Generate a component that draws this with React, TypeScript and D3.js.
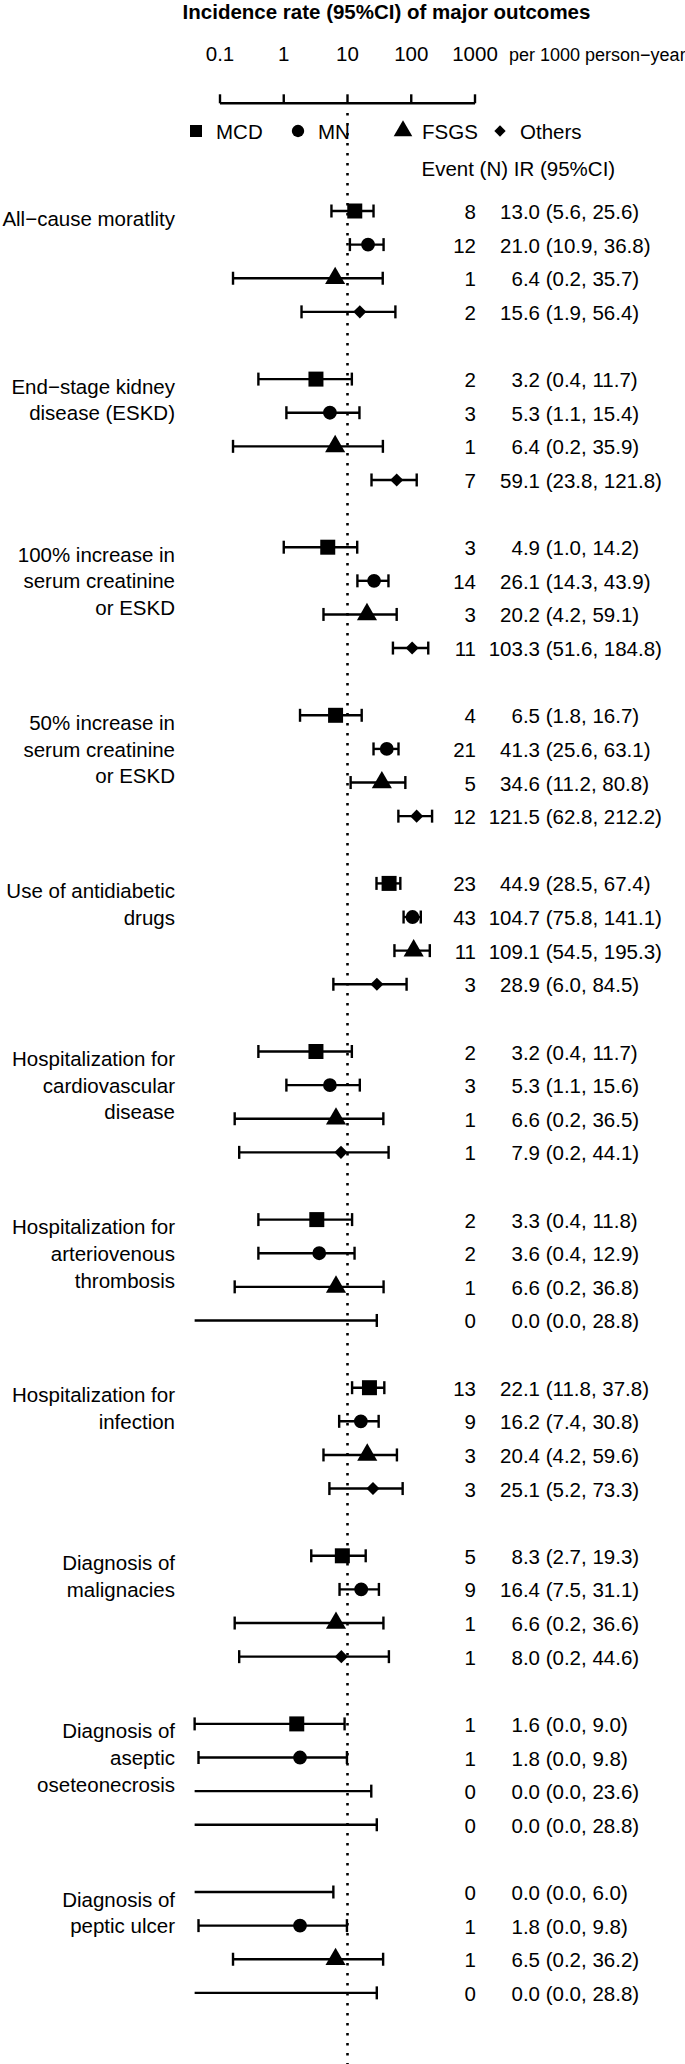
import React from 'react';
import * as d3 from 'd3';

const MINUS = '\u2212';

const groupLabels: string[][] = [
  [`All${MINUS}cause moratlity`],
  [`End${MINUS}stage kidney`, 'disease (ESKD)'],
  ['100% increase in', 'serum creatinine', 'or ESKD'],
  ['50% increase in', 'serum creatinine', 'or ESKD'],
  ['Use of antidiabetic', 'drugs'],
  ['Hospitalization for', 'cardiovascular', 'disease'],
  ['Hospitalization for', 'arteriovenous', 'thrombosis'],
  ['Hospitalization for', 'infection'],
  ['Diagnosis of', 'malignacies'],
  ['Diagnosis of', 'aseptic', 'oseteonecrosis'],
  ['Diagnosis of', 'peptic ulcer'],
];

const subtypes = ['MCD', 'MN', 'FSGS', 'Others'];

const events: number[][] = [
  [8, 12, 1, 2],
  [2, 3, 1, 7],
  [3, 14, 3, 11],
  [4, 21, 5, 12],
  [23, 43, 11, 3],
  [2, 3, 1, 1],
  [2, 2, 1, 0],
  [13, 9, 3, 3],
  [5, 9, 1, 1],
  [1, 1, 0, 0],
  [0, 1, 1, 0],
];

const estimates: number[][] = [
  [13.0, 21.0, 6.4, 15.6],
  [3.2, 5.3, 6.4, 59.1],
  [4.9, 26.1, 20.2, 103.3],
  [6.5, 41.3, 34.6, 121.5],
  [44.9, 104.7, 109.1, 28.9],
  [3.2, 5.3, 6.6, 7.9],
  [3.3, 3.6, 6.6, 0.0],
  [22.1, 16.2, 20.4, 25.1],
  [8.3, 16.4, 6.6, 8.0],
  [1.6, 1.8, 0.0, 0.0],
  [0.0, 1.8, 6.5, 0.0],
];

const lowers: number[][] = [
  [5.6, 10.9, 0.16, 1.9],
  [0.4, 1.1, 0.16, 23.8],
  [1.0, 14.3, 4.2, 51.6],
  [1.8, 25.6, 11.2, 62.8],
  [28.5, 75.8, 54.5, 6.0],
  [0.4, 1.1, 0.17, 0.2],
  [0.4, 0.4, 0.17, 0.0],
  [11.8, 7.4, 4.2, 5.2],
  [2.7, 7.5, 0.17, 0.2],
  [0.04, 0.046, 0.0, 0.0],
  [0.0, 0.046, 0.16, 0.0],
];

const uppers: number[][] = [
  [25.6, 36.8, 35.7, 56.4],
  [11.7, 15.4, 35.9, 121.8],
  [14.2, 43.9, 59.1, 184.8],
  [16.7, 63.1, 80.8, 212.2],
  [67.4, 141.1, 195.3, 84.5],
  [11.7, 15.6, 36.5, 44.1],
  [11.8, 12.9, 36.8, 28.8],
  [37.8, 30.8, 59.6, 73.3],
  [19.3, 31.1, 36.6, 44.6],
  [9.0, 9.8, 23.6, 28.8],
  [6.0, 9.8, 36.2, 28.8],
];

const tickValues = [0.1, 1, 10, 100, 1000];
const tickLabels = ['0.1', '1', '10', '100', '1000'];

const W = 685;
const H = 2064;
const FONT = '"Liberation Sans", Arial, Helvetica, sans-serif';
const FS = 20.5;

const x = d3.scaleLog().domain([0.1, 1000]).range([220, 475]);
const CLIP_MIN = 0.04;
const nRows = groupLabels.length * 5;
const y = d3.scaleLinear().domain([0, nRows - 1]).range([211, 211 + (nRows - 1) * 33.62]);

const symbolTypes = [d3.symbolSquare, d3.symbolCircle, d3.symbolTriangle, d3.symbolSquare];
const markSizes = [225, 150, 175, 86];
const legendSizes = [144, 120, 150, 64];
const rotations = [0, 0, 0, 45];

const f1 = (v: number) => v.toFixed(1);

export default function App() {
  const sw = 2.4;
  const capH = 6.5;
  const axisY = 103.3;
  const xRef = x(10);
  const legendX = [196, 298, 403, 500];
  const legendTextX = [216, 318, 422, 520];
  const eventRight = 476;
  const estRight = 540;

  const rows: React.ReactNode[] = [];
  groupLabels.forEach((lines, g) => {
    const top = y(g * 5);
    lines.forEach((ln, i) => {
      rows.push(
        <text key={`lab-${g}-${i}`} x={175} y={top + 14.5 + i * 26.7} textAnchor="end" fontSize={FS}>
          {ln}
        </text>
      );
    });
    subtypes.forEach((_, s) => {
      const yy = y(g * 5 + s);
      const lo = lowers[g][s];
      const hi = uppers[g][s];
      const est = estimates[g][s];
      const loClipped = lo < CLIP_MIN;
      const x0 = x(loClipped ? CLIP_MIN : lo);
      const x1 = x(hi);
      rows.push(
        <g key={`ci-${g}-${s}`} stroke="#000" strokeWidth={sw}>
          <line x1={x0} x2={x1} y1={yy} y2={yy} />
          {!loClipped && <line x1={x0} x2={x0} y1={yy - capH} y2={yy + capH} />}
          <line x1={x1} x2={x1} y1={yy - capH} y2={yy + capH} />
        </g>
      );
      if (est > 0) {
        const p = d3.symbol().type(symbolTypes[s]).size(markSizes[s])() as string;
        rows.push(
          <path
            key={`pt-${g}-${s}`}
            d={p}
            fill="#000"
            transform={`translate(${x(est)},${yy}) rotate(${rotations[s]})`}
          />
        );
      }
      rows.push(
        <g key={`txt-${g}-${s}`} fontSize={FS}>
          <text x={eventRight} y={yy + 8} textAnchor="end">
            {String(events[g][s])}
          </text>
          <text x={estRight} y={yy + 8} textAnchor="end">
            {f1(est)}
          </text>
          <text x={estRight + 5.7} y={yy + 8}>
            {`(${f1(lo)}, ${f1(hi)})`}
          </text>
        </g>
      );
    });
  });

  return (
    <svg
      width={W}
      height={H}
      viewBox={`0 0 ${W} ${H}`}
      style={{ position: 'absolute', left: 0, top: 0, background: '#fff' }}
      fontFamily={FONT}
    >
      <rect x={0} y={0} width={W} height={H} fill="#fff" />
      <text x={386.5} y={19} textAnchor="middle" fontSize={FS} fontWeight="bold">
        Incidence rate (95%CI) of major outcomes
      </text>
      {tickValues.map((t, i) => (
        <text key={`tl-${i}`} x={x(t)} y={60.5} textAnchor="middle" fontSize={FS}>
          {tickLabels[i]}
        </text>
      ))}
      <text x={509} y={60.5} fontSize={18}>
        {`per 1000 person${MINUS}year`}
      </text>
      <g stroke="#000" strokeWidth={sw}>
        <line x1={x(0.1)} x2={x(1000)} y1={axisY} y2={axisY} />
        {tickValues.map((t, i) => (
          <line key={`tk-${i}`} x1={x(t)} x2={x(t)} y1={axisY} y2={axisY - 9} />
        ))}
      </g>
      <line
        x1={xRef}
        x2={xRef}
        y1={113}
        y2={H}
        stroke="#000"
        strokeWidth={2.6}
        strokeDasharray="2.6 7.4"
      />
      {subtypes.map((st, s) => (
        <g key={`lg-${s}`}>
          <path
            d={d3.symbol().type(symbolTypes[s]).size(legendSizes[s])() as string}
            fill="#000"
            transform={`translate(${legendX[s]},${131}) rotate(${rotations[s]})`}
          />
          <text x={legendTextX[s]} y={138.5} fontSize={FS}>
            {st}
          </text>
        </g>
      ))}
      <text x={421.5} y={175.5} fontSize={FS}>
        Event (N) IR (95%CI)
      </text>
      {rows}
    </svg>
  );
}
